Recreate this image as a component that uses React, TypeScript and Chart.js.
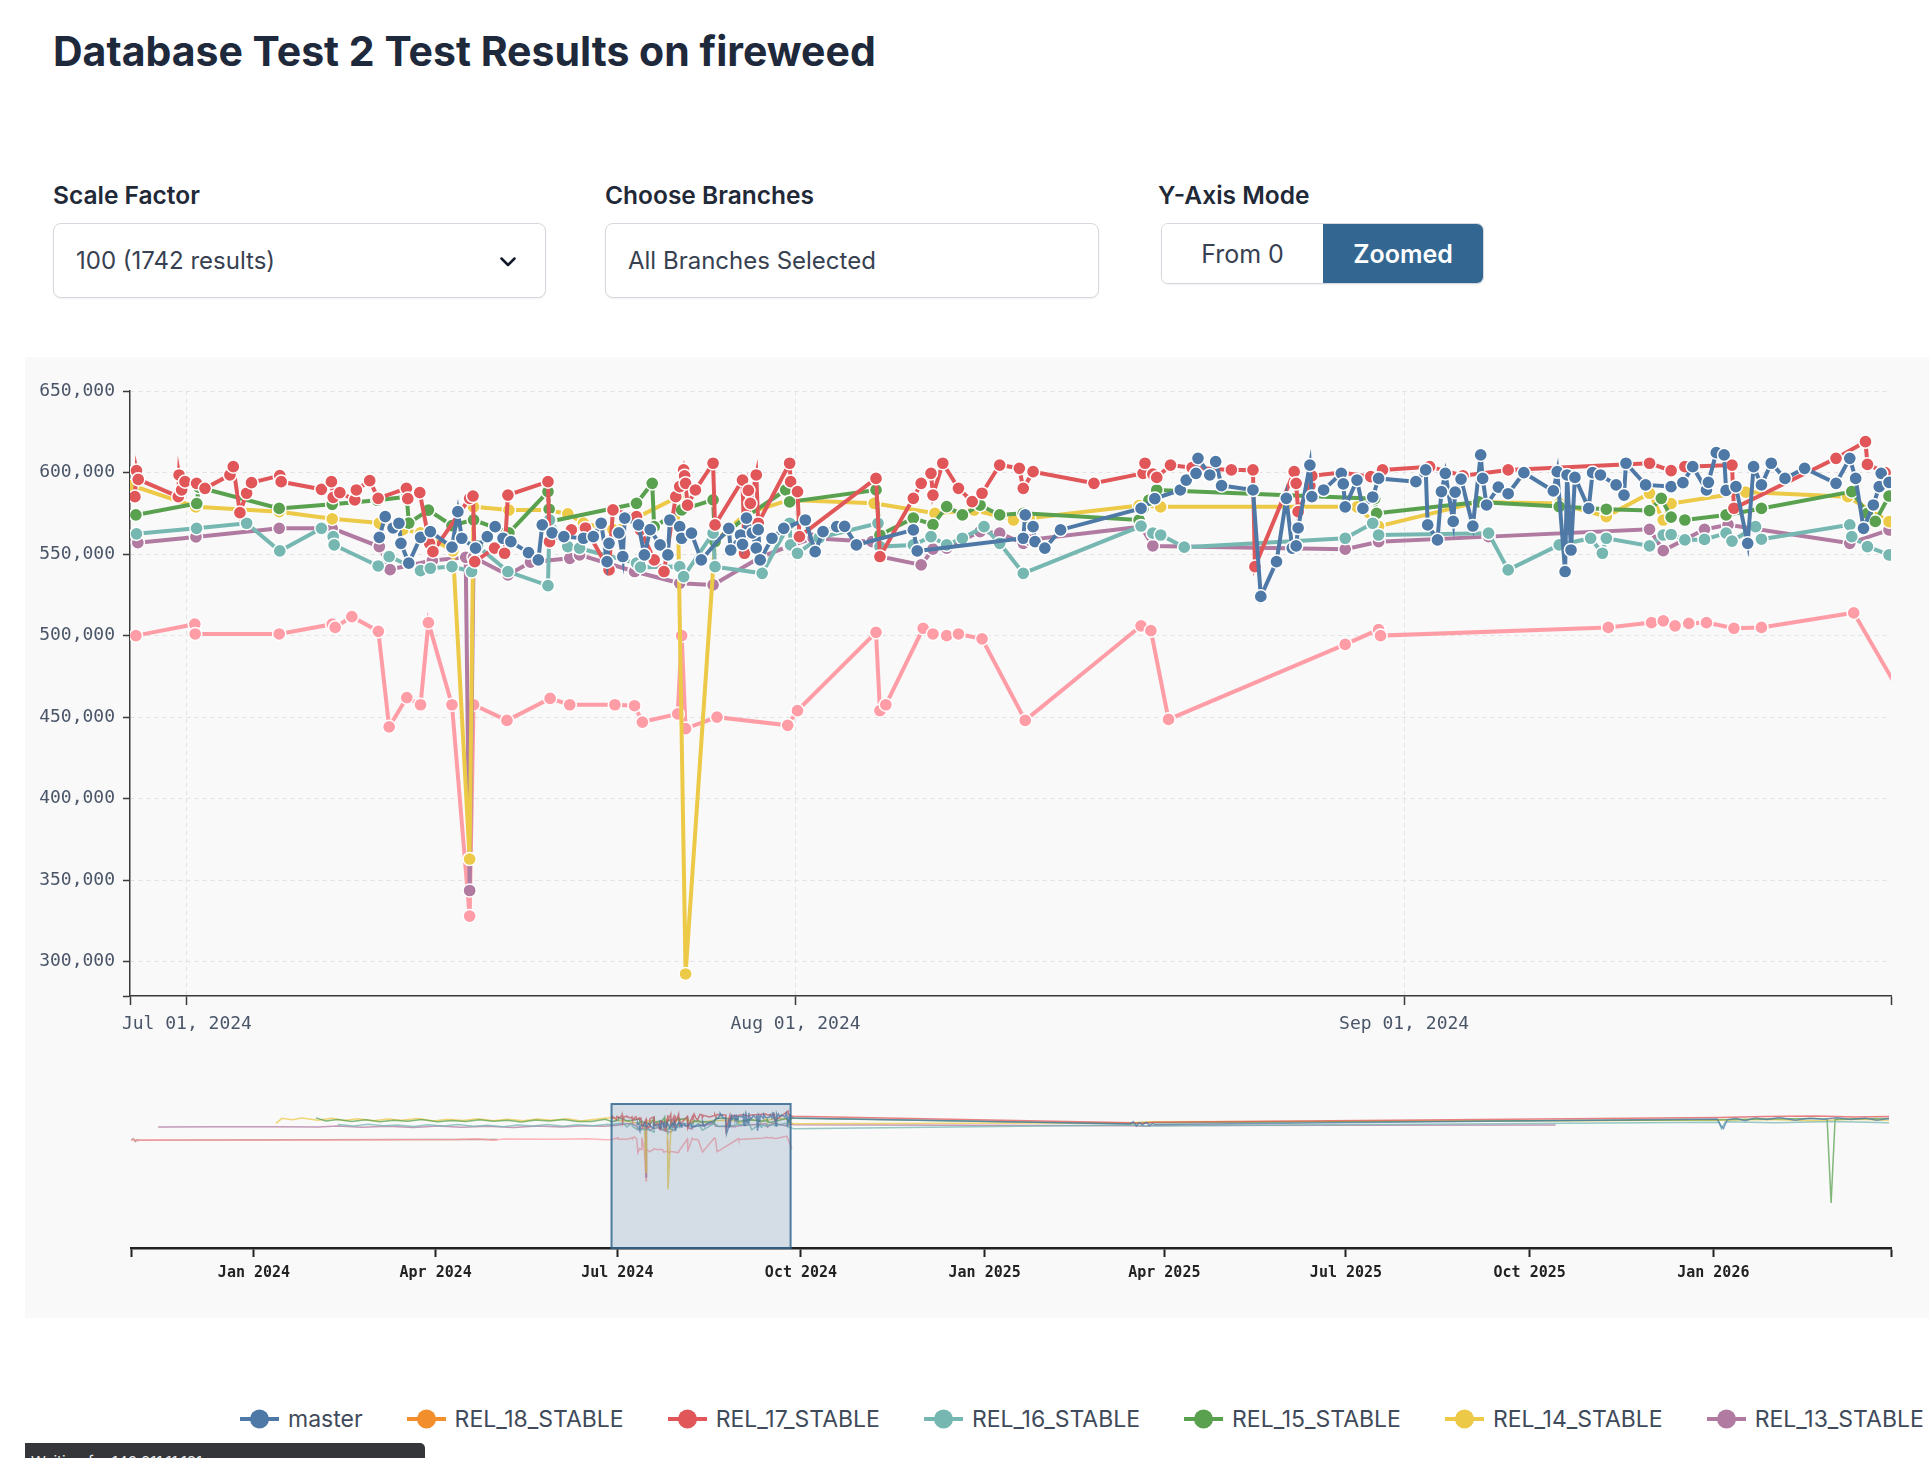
import React, { useEffect, useRef } from "react";
import { Chart, registerables } from "chart.js";

Chart.register(...registerables);

// x = days since 2024-07-01, y = value in thousands
const masterPts: number[][] = [
  [9.8, 560.3], [10.1, 573], [10.5, 566], [10.8, 568.9], [10.9, 556.6], [11.3, 544.4], [11.9, 560.3], [12.4, 563.8],
  [13.5, 554.2], [13.8, 576], [14.0, 559.7], [14.7, 553.6], [15.3, 560.7], [15.7, 566.8], [16.1, 559.7], [16.5, 557.6],
  [17.4, 550.9], [17.9, 546.4], [18.1, 567.9], [18.6, 563], [19.2, 560.7], [20.2, 559.7], [20.7, 560.7], [21.1, 568.9],
  [21.4, 545.4], [21.5, 556.6], [22.0, 563], [22.2, 548.5], [22.3, 572], [23.0, 567.9], [23.3, 549.5], [23.6, 565],
  [24.1, 555.6], [24.5, 549.5], [24.6, 570.9], [25.1, 566.8], [25.2, 559.7], [25.7, 562.8], [26.2, 546.4], [27.6, 565.8],
  [27.7, 552.5], [28.2, 561.7], [28.3, 556], [28.5, 572], [28.8, 563], [29.0, 553.6], [29.1, 565], [29.2, 546.4],
  [29.8, 559.7], [30.4, 565.8], [31.5, 570.9], [32.0, 551.5], [32.4, 563.8], [33.1, 566.8], [33.5, 567], [34.1, 555.6],
  [37.0, 564.8], [37.2, 551.9], [42.6, 559.7], [42.7, 574], [43.1, 566.8], [43.2, 557.6], [43.7, 553.6], [44.5, 564.8],
  [48.6, 578], [49.3, 584], [50.6, 589.3], [50.9, 595.4], [51.4, 599.5], [51.5, 608.7], [52.1, 598.5], [52.4, 606.7],
  [52.7, 592], [54.3, 589.3], [54.7, 524], [55.5, 545.4], [56.0, 584.2], [56.3, 553.6], [56.5, 555], [56.6, 566],
  [57.2, 604.6], [57.3, 585.2], [57.9, 589.3], [58.8, 599.5], [58.9, 593], [59.0, 579], [59.6, 595.4], [59.9, 578],
  [60.4, 585], [60.7, 596.4], [62.6, 594.4], [63.1, 601.6], [63.2, 567.9], [63.7, 558.7], [63.9, 588.3], [64.1, 599.5],
  [64.5, 570], [64.6, 588], [64.9, 596], [65.5, 567.2], [65.9, 610.8], [66.0, 596.4], [66.2, 580.1], [66.8, 591],
  [67.3, 587], [68.1, 599.9], [69.6, 588.7], [69.8, 600.5], [70.2, 539.3], [70.3, 598.5], [70.5, 552.5], [70.7, 597],
  [71.4, 578], [71.6, 599.9], [72.0, 598.5], [72.8, 592.4], [73.2, 586.2], [73.3, 605.7], [74.3, 592.4], [75.6, 591.4],
  [76.2, 593.8], [76.7, 603.6], [77.4, 589.3], [77.5, 594], [77.9, 612.2], [78.3, 610.8], [78.4, 589], [78.9, 591.4],
  [79.5, 556.6], [79.8, 603.6], [80.2, 592.4], [80.7, 605.7], [81.4, 596.4], [82.4, 602.6], [84.0, 593.4], [84.7, 608.7],
  [85.0, 596.4], [85.4, 565.8], [85.9, 580.1], [86.2, 591.4], [86.3, 599.5], [86.7, 594],
  [88.5, 590], [257, 565], [258.5, 575], [260, 556], [261.5, 570], [263, 560], [265, 572], [266.5, 558], [268, 566],
  [269.5, 562], [551, 585], [552.5, 560], [554, 545], [556, 582], [560, 588], [565, 578], [570, 590], [576, 583],
  [582, 592], [590, 580], [597, 588], [604, 584], [611, 591], [618, 583], [625, 589], [631, 580], [637, 587],
];

const rel18Pts: number[][] = [];

const rel17Pts: number[][] = [
  [-2.65, 585.2], [-2.57, 601.2], [-2.48, 595.8], [-0.44, 585.2], [-0.4, 598.5], [-0.27, 589.3], [-0.1, 594.4],
  [0.49, 593.4], [0.92, 590.3], [2.19, 598.5], [2.36, 603.6], [2.7, 575.4], [3.04, 587.3], [3.29, 593.8], [4.73, 598.1],
  [4.8, 594.4], [6.85, 589.7], [7.36, 594.4], [7.45, 584.8], [7.79, 587.7], [8.55, 583.2], [8.63, 589.3], [9.31, 595],
  [9.74, 584.2], [11.18, 590.3], [11.25, 584], [11.86, 587.7], [12.36, 556.6], [12.53, 551.5], [14.4, 584.2],
  [14.57, 585.6], [14.66, 545.4], [15.67, 553.6], [16.18, 550.5], [16.35, 586.2], [18.39, 594.4], [18.47, 557.6],
  [19.58, 564.8], [20.3, 566], [21.5, 540.3], [21.7, 577.1], [22.9, 573], [23.1, 564.8], [23.8, 546.4], [24.3, 539.3],
  [24.9, 585.2], [25.1, 591.4], [25.3, 601.6], [25.35, 598], [25.4, 593.4], [25.5, 580], [25.9, 589.3], [26.8, 605.7],
  [26.9, 567.9], [28.3, 595.4], [28.4, 550.5], [28.6, 589], [28.7, 581.1], [29.0, 598.5], [29.1, 568.9], [30.7, 605.7],
  [30.75, 594.4], [31.1, 588.3], [31.2, 560.7], [35.1, 596.4], [35.3, 548.5], [37.0, 584.2], [37.4, 593.4], [37.9, 599.5],
  [38.0, 586.2], [38.5, 605.7], [39.3, 590.3], [40.0, 582.2], [40.5, 587.3], [41.4, 604.6], [42.4, 602.6], [42.6, 590.3],
  [43.1, 600.5], [46.2, 593.4], [48.7, 599.5], [48.8, 605.7], [49.2, 599], [49.4, 597], [50.1, 604.6], [51.2, 603],
  [53.2, 601.6], [54.3, 601.6], [54.4, 542.3], [56.4, 600.5], [56.5, 593.4], [56.6, 576], [57.2, 592], [57.3, 598],
  [58.8, 600], [60.3, 597.5], [60.9, 601.6], [63.3, 603.6], [65.0, 598], [67.3, 601.6], [74.5, 605.7], [75.6, 601.2],
  [76.3, 603.6], [78.7, 604.6], [78.8, 578.1], [84.0, 608.7], [85.5, 618.9], [85.6, 605], [86.5, 600],
  [88, 597], [258, 570], [264, 568], [268, 572], [552, 592], [575, 596], [600, 598], [620, 594], [637, 596],
];

const rel16Pts: number[][] = [
  [-140, 562], [-132, 556], [-125, 563], [-117, 557], [-110, 560], [-102, 554], [-95, 561], [-87, 556], [-80, 562],
  [-72, 555], [-65, 559], [-57, 553], [-50, 560], [-42, 556], [-35, 562], [-27, 555], [-20, 561], [-12, 557], [-5, 563],
  [-2.57, 562.4], [0.49, 565.8], [3.04, 568.9], [4.73, 551.9], [6.85, 565.8], [7.45, 560.7], [7.5, 555.6], [9.74, 542.7],
  [10.3, 548.5], [11.9, 539.9], [12.4, 541.3], [13.5, 542.3], [14.5, 539.3], [14.8, 555], [16.35, 539.3], [18.39, 530.7],
  [18.47, 570.9], [19.4, 554.6], [20.0, 553.6], [22.9, 544.4], [23.1, 542], [25.1, 542.3], [25.3, 536.2], [26.8, 562.8],
  [26.9, 542.3], [29.3, 538.2], [30.7, 568.9], [30.75, 555.6], [31.1, 550.5], [32.2, 560], [35.2, 568.9], [35.3, 554.6],
  [37.0, 555.6], [37.9, 560.7], [38.7, 555.6], [39.5, 559.7], [40.6, 566.8], [41.4, 556.6], [42.6, 538.2], [48.6, 567.2],
  [49.2, 562.8], [49.6, 561.7], [50.8, 554.2], [59.0, 559.7], [60.4, 568.9], [60.7, 561.7], [66.3, 562.8], [67.3, 540.3],
  [69.9, 555.6], [71.5, 559.7], [72.1, 550.5], [72.3, 559.7], [74.5, 555], [75.2, 561.7], [75.6, 562], [76.3, 558.7],
  [77.3, 559], [78.4, 562.8], [78.7, 558], [79.9, 566.8], [80.2, 559.1], [84.7, 567.9], [84.8, 560.7], [85.6, 554.6],
  [86.7, 549.5],
  [88.5, 545], [258, 560], [265, 556], [552, 572], [553, 545], [555, 574], [580, 570], [610, 575], [637, 570],
];

const rel15Pts: number[][] = [
  [-151, 590], [-146, 577], [-140, 583], [-133, 575], [-126, 582], [-119, 574], [-112, 580], [-105, 576], [-98, 583],
  [-90, 574], [-83, 579], [-76, 575], [-69, 582], [-62, 576], [-55, 580], [-48, 573], [-41, 581], [-34, 577], [-27, 583],
  [-20, 575], [-13, 575], [-6, 584],
  [-2.6, 574], [0.5, 581], [0.6, 591], [4.7, 578], [7.4, 580.5], [9.7, 583], [11.2, 585.2], [11.3, 569], [12.3, 577],
  [13.5, 567.5], [14.6, 571], [16.4, 563], [18.39, 588.3], [18.45, 577.5], [18.5, 570], [22.9, 581.1], [23.7, 593.4],
  [23.8, 566.8], [25.2, 577.1], [26.8, 583.2], [26.9, 557.6], [28.5, 573], [30.5, 589.3], [30.7, 582], [35.1, 589.3],
  [35.3, 561.7], [37.0, 572], [38.0, 568], [38.7, 579.1], [39.5, 574], [40.4, 580], [41.4, 574], [42.6, 575],
  [48.5, 570.9], [48.7, 578], [49.0, 583], [49.4, 589.3], [60.5, 584], [60.6, 575], [65.8, 582], [69.9, 579.1],
  [72.3, 577.5], [74.5, 576.7], [75.1, 584.2], [75.6, 572.6], [76.3, 570.9], [78.4, 574], [80.2, 578], [84.8, 588.3],
  [85.6, 575], [86.0, 570], [86.7, 585.6],
  [88.5, 589], [258, 566], [265, 570], [552, 582], [575, 585], [600, 588], [606, 585], [608, 235], [610, 584],
  [620, 586], [637, 588],
];

const rel14Pts: number[][] = [
  [-171, 567], [-168, 588], [-163, 582], [-158, 590], [-150, 580], [-143, 588], [-137, 579], [-130, 586], [-122, 578],
  [-115, 585], [-108, 580], [-100, 587], [-92, 577], [-85, 584], [-77, 579], [-70, 586], [-62, 578], [-55, 584],
  [-47, 578], [-40, 585], [-33, 580], [-25, 586], [-18, 577], [-11, 584], [-5, 590],
  [-2.8, 592], [0.45, 579], [4.7, 576], [7.4, 571.6], [9.8, 569], [11.0, 565], [11.9, 563], [13.55, 552], [14.4, 363],
  [14.6, 579], [16.4, 577], [18.4, 577], [19.4, 574.6], [20.2, 569], [21.7, 565], [25.0, 585], [25.4, 292.5], [26.9, 558],
  [28.5, 575], [30.7, 583.2], [35.0, 581.1], [38.1, 575], [40.1, 577], [42.1, 570.9], [42.9, 572], [48.5, 579.8],
  [49.6, 579], [59.6, 579], [60.7, 567], [65.8, 582], [69.9, 581], [72.3, 573], [74.5, 587.3], [75.2, 570.9], [75.6, 581],
  [79.4, 588], [84.6, 585.2], [86.7, 569.9],
  [88.5, 566], [258, 570], [266, 574], [552, 580], [575, 583], [600, 578], [620, 584], [637, 580],
];

const rel13Pts: number[][] = [
  [-230, 552], [-200, 553], [-170, 553], [-150, 552], [-140, 556], [-128, 551], [-115, 555], [-102, 550], [-90, 556],
  [-78, 551], [-65, 555], [-52, 550], [-40, 556], [-28, 552], [-16, 557], [-7, 555],
  [-2.5, 557], [0.46, 560.5], [4.7, 565.8], [7.4, 565.8], [9.8, 554.6], [10.35, 540.5], [12.5, 546], [14.2, 548],
  [14.4, 343.7], [14.6, 548], [16.35, 537.2], [17.5, 545], [19.5, 547.4], [20.0, 549.5], [22.8, 539.3], [25.1, 532.1],
  [26.8, 531.1], [29.2, 548], [30.7, 555], [31.9, 559.7], [34.9, 557.6], [35.3, 548.5], [37.4, 543.4], [38.0, 553],
  [38.7, 553.6], [40.4, 563.8], [41.4, 562.8], [42.6, 556.6], [42.9, 558.7], [48.6, 566.8], [49.2, 555], [59.0, 553],
  [60.7, 557.6], [66.3, 560.7], [74.5, 565.2], [75.2, 552.1], [77.3, 565.2], [78.5, 568], [84.7, 556.6], [86.7, 564.8],
  [88.5, 561], [258, 557], [265, 555], [268, 558], [470, 560],
];

const rel12Pts: number[][] = [
  [-243.5, 496], [-242, 501], [-240.5, 494], [-239, 498], [-200, 497], [-160, 498], [-120, 499], [-80, 500], [-70, 503],
  [-62, 497], [-57, 502], [-30, 501], [-15, 503], [-6, 499],
  [-2.6, 500], [0.4, 507], [0.42, 501], [4.7, 501], [7.4, 507], [7.55, 505], [8.4, 511.6], [9.75, 502.6], [10.3, 444],
  [11.2, 462], [11.9, 457.6], [12.3, 508], [13.5, 457.6], [14.4, 328], [14.6, 457.6], [16.3, 448], [18.5, 461.5],
  [19.5, 457.6], [21.8, 457.6], [22.8, 457], [23.2, 447], [25.0, 452], [25.2, 500], [25.4, 443], [27.0, 450],
  [30.6, 445], [31.1, 454], [35.1, 502], [35.3, 454], [35.6, 457.6], [37.5, 504.5], [38.0, 501], [38.7, 500], [39.3, 501],
  [40.5, 498], [42.7, 448], [48.6, 506], [49.1, 503], [50.0, 448.6], [59.0, 494.6], [60.7, 503.7], [60.8, 500],
  [72.4, 505], [74.6, 508], [75.2, 509], [75.8, 506], [76.5, 507.5], [77.4, 508], [78.8, 504.5], [80.2, 505],
  [84.9, 514], [87.5, 460],
];

const rel11Pts: number[][] = [
  [-243.5, 497], [-242.5, 503], [-241.5, 492], [-240.5, 499], [-239, 497], [-200, 498], [-150, 499], [-100, 500], [-60, 500],
];

const SERIES_NAMES = ["master", "REL_18_STABLE", "REL_17_STABLE", "REL_16_STABLE", "REL_15_STABLE", "REL_14_STABLE", "REL_13_STABLE", "REL_12_STABLE", "REL_11_STABLE"];
const SERIES_COLORS = ["#4e79a7", "#f28e2b", "#e15759", "#76b7b2", "#59a14f", "#edc948", "#b07aa1", "#ff9da7", "#9c755f"];
const SERIES_POINTS = [masterPts, rel18Pts, rel17Pts, rel16Pts, rel15Pts, rel14Pts, rel13Pts, rel12Pts, rel11Pts];

const MAIN_MIN_DAY = -2.9;
const MAIN_MAX_DAY = 86.8;
const MAIN_TICK_DAYS = [0, 31, 62];
const MAIN_TICK_LABELS = ["Jul 01, 2024", "Aug 01, 2024", "Sep 01, 2024"];
const Y_MIN = 279000;
const Y_MAX = 650000;
const Y_TICKS = [300000, 350000, 400000, 450000, 500000, 550000, 600000, 650000];

const OV_MIN_DAY = -243.6;
const OV_MAX_DAY = 638;
const OV_TICK_DAYS = [-182, -91, 0, 92, 184, 274, 365, 457, 549];
const OV_TICK_LABELS = ["Jan 2024", "Apr 2024", "Jul 2024", "Oct 2024", "Jan 2025", "Apr 2025", "Jul 2025", "Oct 2025", "Jan 2026"];
const OV_Y_MIN = 47000;
const OV_Y_MAX = 648000;

function withAlpha(hex: string, a: number) {
  const r = parseInt(hex.slice(1, 3), 16), g = parseInt(hex.slice(3, 5), 16), b = parseInt(hex.slice(5, 7), 16);
  return `rgba(${r},${g},${b},${a})`;
}

function seriesData(i: number) {
  return SERIES_POINTS[i].slice().sort((a, b) => a[0] - b[0]).map(([d, v]) => ({ x: d, y: v * 1000 }));
}

const MONO = "'DejaVu Sans Mono', monospace";

export default function App() {
  const mainRef = useRef<HTMLCanvasElement>(null);
  const ovRef = useRef<HTMLCanvasElement>(null);

  useEffect(() => {
    const mainChart = new Chart(mainRef.current as HTMLCanvasElement, {
      type: "line",
      data: {
        datasets: SERIES_NAMES.map((name, i) => ({
          label: name,
          data: seriesData(i),
          borderColor: SERIES_COLORS[i],
          backgroundColor: SERIES_COLORS[i],
          borderWidth: 4,
          pointRadius: 6.6,
          pointBorderWidth: 1.5,
          pointBorderColor: "#ffffff",
          pointBackgroundColor: SERIES_COLORS[i],
          tension: 0,
          fill: false,
        })),
      },
      options: {
        responsive: false,
        animation: false,
        events: [],
        layout: { padding: { left: 0, right: 38, top: 34, bottom: 0 } },
        plugins: { legend: { display: false }, tooltip: { enabled: false } },
        scales: {
          x: {
            type: "linear",
            min: MAIN_MIN_DAY,
            max: MAIN_MAX_DAY,
            afterBuildTicks: (axis: any) => {
              axis.ticks = [MAIN_MIN_DAY, ...MAIN_TICK_DAYS, MAIN_MAX_DAY].map((v) => ({ value: v }));
            },
            afterFit: (axis: any) => { axis.height = 61; },
            ticks: {
              autoSkip: false,
              maxRotation: 0,
              padding: 9,
              color: "#4a5568",
              font: { family: MONO, size: 18 },
              callback: (v: any) => {
                const k = MAIN_TICK_DAYS.indexOf(Number(v));
                return k >= 0 ? MAIN_TICK_LABELS[k] : "";
              },
            },
            grid: {
              color: (ctx: any) => (ctx.tick && MAIN_TICK_DAYS.indexOf(ctx.tick.value) >= 0 ? "#e2e2e2" : "rgba(0,0,0,0)"),
              lineWidth: 1,
              drawTicks: true,
              tickLength: 9,
              tickColor: "#3a3a3a",
              tickWidth: 1.5,
            },
            border: { display: true, color: "#3a3a3a", width: 1.5, dash: [4, 4] },
          },
          y: {
            type: "linear",
            min: Y_MIN,
            max: Y_MAX,
            afterBuildTicks: (axis: any) => {
              axis.ticks = [Y_MIN, ...Y_TICKS].map((v) => ({ value: v }));
            },
            afterFit: (axis: any) => { axis.width = 105; },
            ticks: {
              padding: 8,
              color: "#4a5568",
              font: { family: MONO, size: 18 },
              callback: (v: any) => (Number(v) === Y_MIN ? "" : Number(v).toLocaleString("en-US")),
            },
            grid: {
              color: (ctx: any) => (ctx.tick && ctx.tick.value === Y_MIN ? "rgba(0,0,0,0)" : "#e2e2e2"),
              lineWidth: 1,
              drawTicks: true,
              tickLength: 7,
              tickColor: "#3a3a3a",
              tickWidth: 1.5,
            },
            border: { display: true, color: "#3a3a3a", width: 1.5, dash: [4, 4] },
          },
        },
      } as any,
    });

    const brushPlugin = {
      id: "brushRect",
      afterDatasetsDraw(chart: any) {
        const { ctx, chartArea } = chart;
        const xs = chart.scales.x;
        const x1 = xs.getPixelForValue(MAIN_MIN_DAY);
        const x2 = xs.getPixelForValue(MAIN_MAX_DAY);
        ctx.save();
        ctx.fillStyle = "rgba(51,103,145,0.19)";
        ctx.fillRect(x1, chartArea.top, x2 - x1, chartArea.bottom - chartArea.top);
        ctx.strokeStyle = "rgba(51,103,145,0.85)";
        ctx.lineWidth = 2;
        ctx.strokeRect(x1, chartArea.top, x2 - x1, chartArea.bottom - chartArea.top);
        ctx.restore();
      },
    };

    const ovChart = new Chart(ovRef.current as HTMLCanvasElement, {
      type: "line",
      data: {
        datasets: SERIES_NAMES.map((name, i) => ({
          label: name,
          data: seriesData(i),
          borderColor: withAlpha(SERIES_COLORS[i], 0.75),
          borderWidth: 1.5,
          pointRadius: 0,
          tension: 0,
          fill: false,
        })),
      },
      options: {
        responsive: false,
        animation: false,
        events: [],
        layout: { padding: { left: 106, right: 38, top: 24, bottom: 20 } },
        plugins: { legend: { display: false }, tooltip: { enabled: false } },
        scales: {
          x: {
            type: "linear",
            min: OV_MIN_DAY,
            max: OV_MAX_DAY,
            afterBuildTicks: (axis: any) => {
              axis.ticks = [OV_MIN_DAY, ...OV_TICK_DAYS, OV_MAX_DAY].map((v) => ({ value: v }));
            },
            afterFit: (axis: any) => { axis.height = 50; },
            ticks: {
              autoSkip: false,
              maxRotation: 0,
              padding: 7,
              color: "#222222",
              font: { family: MONO, size: 15, weight: "bold" },
              callback: (v: any) => {
                const k = OV_TICK_DAYS.indexOf(Number(v));
                return k >= 0 ? OV_TICK_LABELS[k] : "";
              },
            },
            grid: {
              drawOnChartArea: false,
              drawTicks: true,
              tickLength: 9,
              tickColor: "#222222",
              tickWidth: 2,
              color: "rgba(0,0,0,0)",
            },
            border: { display: true, color: "#222222", width: 2.5 },
          },
          y: { display: false, min: OV_Y_MIN, max: OV_Y_MAX },
        },
      } as any,
      plugins: [brushPlugin],
    });

    return () => {
      mainChart.destroy();
      ovChart.destroy();
    };
  }, []);

  const box: React.CSSProperties = {
    position: "absolute",
    top: 223,
    height: 75,
    boxSizing: "border-box",
    border: "1px solid #d4d8de",
    borderRadius: 8,
    background: "#ffffff",
    boxShadow: "0 1px 2px rgba(0,0,0,0.06)",
    display: "flex",
    alignItems: "center",
    font: "400 24px Inter, sans-serif",
    color: "#374151",
  };
  const label: React.CSSProperties = {
    position: "absolute",
    top: 183,
    font: "600 24.5px Inter, sans-serif",
    lineHeight: "24px",
    color: "#1f2937",
    whiteSpace: "nowrap",
  };

  return (
    <div style={{ position: "fixed", left: 0, top: 0, width: 1929, height: 1458, overflow: "hidden", background: "#ffffff" }}>
      <div style={{ position: "absolute", left: 53, top: 31, font: "700 41px Inter, sans-serif", lineHeight: "41px", color: "#1e293b", whiteSpace: "nowrap" }}>
        Database Test 2 Test Results on fireweed
      </div>

      <div style={{ ...label, left: 53 }}>Scale Factor</div>
      <div style={{ ...box, left: 53, width: 493, paddingLeft: 22 }}>
        100 (1742 results)
        <svg width={16} height={10} style={{ position: "absolute", left: 446, top: 33 }}>
          <polyline points="1.5,1.5 8,8 14.5,1.5" fill="none" stroke="#111827" strokeWidth={2.5} strokeLinecap="round" strokeLinejoin="round" />
        </svg>
      </div>

      <div style={{ ...label, left: 605 }}>Choose Branches</div>
      <div style={{ ...box, left: 605, width: 494, paddingLeft: 22 }}>All Branches Selected</div>

      <div style={{ ...label, left: 1158 }}>Y-Axis Mode</div>
      <div style={{ position: "absolute", left: 1161, top: 223, width: 323, height: 61, boxSizing: "border-box", border: "1px solid #d4d8de", borderRadius: 7, overflow: "hidden", display: "flex", boxShadow: "0 1px 2px rgba(0,0,0,0.06)" }}>
        <div style={{ width: 161, background: "#ffffff", display: "flex", alignItems: "center", justifyContent: "center", font: "400 25px Inter, sans-serif", color: "#374151" }}>From 0</div>
        <div style={{ flex: 1, background: "#336791", display: "flex", alignItems: "center", justifyContent: "center", font: "600 25px Inter, sans-serif", color: "#ffffff" }}>Zoomed</div>
      </div>

      <div style={{ position: "absolute", left: 25, top: 357, width: 1920, height: 961, background: "#f9f9f9" }} />
      <canvas ref={mainRef} width={1904} height={700} style={{ position: "absolute", left: 25, top: 357, width: 1904, height: 700 }} />
      <canvas ref={ovRef} width={1904} height={238} style={{ position: "absolute", left: 25, top: 1080, width: 1904, height: 238 }} />

      <div style={{ position: "absolute", left: 240, top: 1400, height: 37, display: "flex", alignItems: "center", gap: 44, whiteSpace: "nowrap" }}>
        {SERIES_NAMES.map((name, i) => (
          <div key={name} style={{ display: "flex", alignItems: "center", gap: 9 }}>
            <svg width={39} height={22}>
              <line x1={0} y1={11} x2={39} y2={11} stroke={SERIES_COLORS[i]} strokeWidth={4} />
              <circle cx={19.5} cy={11} r={9.5} fill={SERIES_COLORS[i]} />
            </svg>
            <span style={{ font: "400 23px Inter, sans-serif", color: "#3f4a5a" }}>{name}</span>
          </div>
        ))}
      </div>

      <div style={{ position: "absolute", left: 25, top: 1443, width: 400, height: 40, boxSizing: "border-box", background: "#35363a", borderTopRightRadius: 5, color: "#e8eaed", font: "400 15px Inter, sans-serif", padding: "9px 6px", whiteSpace: "nowrap" }}>
        Waiting for 140.211.11.131
      </div>
    </div>
  );
}
